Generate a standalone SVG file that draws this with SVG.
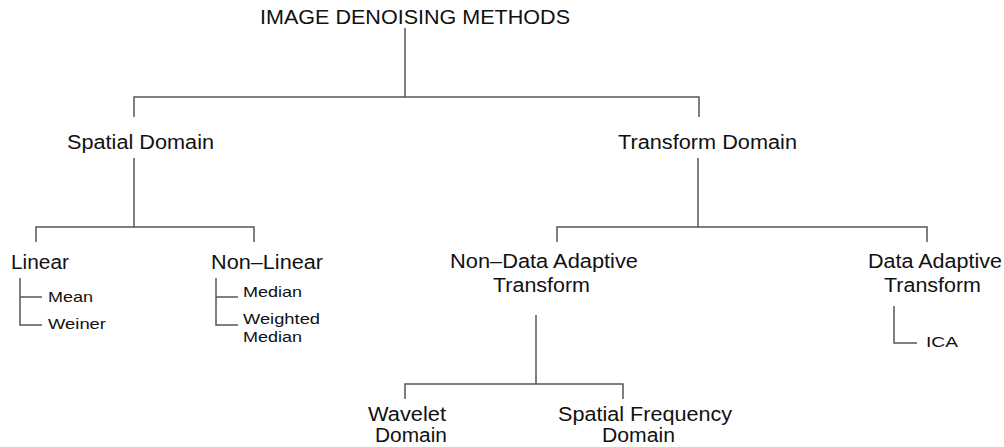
<svg xmlns="http://www.w3.org/2000/svg" width="1004" height="447" viewBox="0 0 1004 447">
<style>
.t{font-family:"Liberation Sans",Arial,sans-serif;font-size:19.5px;fill:#111}
.s{font-family:"Liberation Sans",Arial,sans-serif;font-size:15px;fill:#111}
.c{stroke:#555;stroke-width:1.5;fill:none}
</style>
<rect width="1004" height="447" fill="#fff"/>
<g id="connectors" class="c">
<path d="M405 28V97M134 117V97H699V117"/>
<path d="M134 158V227M36 242V227H254V242"/>
<path d="M698 158V227M557 242V227H927V242"/>
<path d="M20 278V325H42M20 297H42"/>
<path d="M216 278V325H238M216 297H238"/>
<path d="M536 315V384M405 399V384H623V399"/>
<path d="M894 306V343H917"/>
</g>
<g id="root"><text class="t" x="260" y="24" textLength="310" lengthAdjust="spacingAndGlyphs">IMAGE DENOISING METHODS</text></g>
<g id="spatial"><text class="t" x="67" y="149" textLength="147" lengthAdjust="spacingAndGlyphs">Spatial Domain</text></g>
<g id="transform"><text class="t" x="618" y="149" textLength="179" lengthAdjust="spacingAndGlyphs">Transform Domain</text></g>
<g id="linear"><text class="t" x="11" y="269" textLength="58" lengthAdjust="spacingAndGlyphs">Linear</text></g>
<g id="nonlinear"><text class="t" x="211" y="269" textLength="112" lengthAdjust="spacingAndGlyphs">Non–Linear</text></g>
<g id="mean"><text class="s" x="48" y="302" textLength="45" lengthAdjust="spacingAndGlyphs">Mean</text></g>
<g id="weiner"><text class="s" x="48" y="329" textLength="58" lengthAdjust="spacingAndGlyphs">Weiner</text></g>
<g id="median"><text class="s" x="243" y="297" textLength="59" lengthAdjust="spacingAndGlyphs">Median</text></g>
<g id="wmedian"><text class="s" x="243" y="324" textLength="77" lengthAdjust="spacingAndGlyphs">Weighted</text><text class="s" x="243" y="342" textLength="59" lengthAdjust="spacingAndGlyphs">Median</text></g>
<g id="nda"><text class="t" x="450" y="268" textLength="188" lengthAdjust="spacingAndGlyphs">Non–Data Adaptive</text><text class="t" x="493" y="292" textLength="97" lengthAdjust="spacingAndGlyphs">Transform</text></g>
<g id="da"><text class="t" x="868" y="268" textLength="134" lengthAdjust="spacingAndGlyphs">Data Adaptive</text><text class="t" x="884" y="292" textLength="97" lengthAdjust="spacingAndGlyphs">Transform</text></g>
<g id="ica"><text class="s" x="926" y="347" textLength="32" lengthAdjust="spacingAndGlyphs">ICA</text></g>
<g id="wavelet"><text class="t" x="368" y="421" textLength="78" lengthAdjust="spacingAndGlyphs">Wavelet</text><text class="t" x="375" y="442" textLength="72" lengthAdjust="spacingAndGlyphs">Domain</text></g>
<g id="sfd"><text class="t" x="558" y="421" textLength="174" lengthAdjust="spacingAndGlyphs">Spatial Frequency</text><text class="t" x="602" y="442" textLength="73" lengthAdjust="spacingAndGlyphs">Domain</text></g>
</svg>
